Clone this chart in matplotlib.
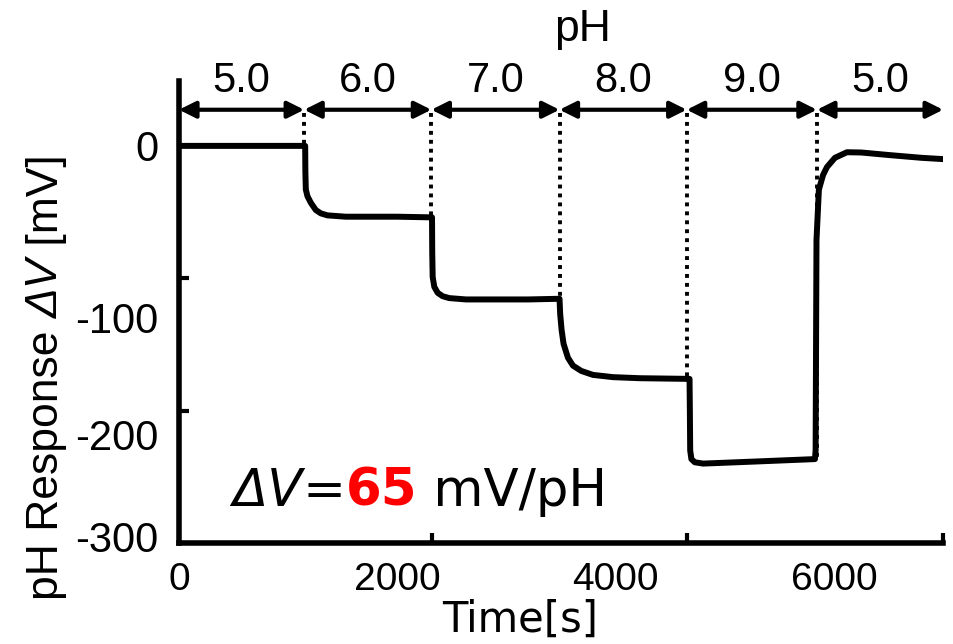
import matplotlib
matplotlib.use('Agg')
import matplotlib.pyplot as plt

matplotlib.rcParams.update({'font.family': 'Liberation Sans'})

time_s = [0, 1156, 1158, 1162, 1177, 1208, 1254, 1300, 1361, 1529, 2000, 2318,
          2320, 2324, 2339, 2370, 2416, 2477, 2630, 3200, 3486,
          3492, 3505, 3523, 3563, 3609, 3685, 3792, 3976, 4220, 4660,
          4677, 4680, 4683, 4694, 4725, 4801, 5291, 5826,
          5832, 5840, 5862, 5900, 5936, 6009, 6119, 6250, 6514, 6800, 7000]
dv_mV = [0, 0, -20, -33, -38, -43, -48.5, -51, -52.5, -53.5, -53.5, -54,
         -80, -99, -106.5, -111, -113.6, -115, -116, -116, -115.5,
         -127, -139, -149.5, -160, -166, -170, -173, -174.7, -175.5, -176,
         -176, -200, -230, -236.6, -239, -240, -238.4, -236.6,
         -230, -71, -33, -22, -16, -9, -4.8, -5, -7, -9, -10]

# pH steps
ph_bounds = [0, 1147, 2312, 3486, 4651, 5844, 7000]
ph_labels = ['5.0', '6.0', '7.0', '8.0', '9.0', '5.0']
step_level = [0, -54, -115.5, -176, -236.6]

xtick_vals = [0, 2000, 4000, 6000]
xtick_marks = [2321, 4651, 7000]
ytick_labels = ['0', '-100', '-200', '-300']
ytick_label_pos = [0, -130, -218, -295]
ytick_marks = [-100, -200]

fig = plt.figure(figsize=(9.54, 6.44), dpi=100)
ax = fig.add_axes([0.1876, 0.1568, 0.801, 0.7174])

ax.plot(time_s, dv_mV, color='k', lw=4.3, solid_joinstyle='round', zorder=3)

arrow_y = 27.3
for t, v in zip(ph_bounds[1:-1], step_level):
    ax.plot([t, t], [25, v], color='k', lw=2.8, linestyle=(0, (1, 1.3)),
            dash_capstyle='butt', zorder=2, clip_on=False)

for i in range(len(ph_labels)):
    ax.annotate('', xy=(ph_bounds[i+1], arrow_y), xytext=(ph_bounds[i], arrow_y),
                arrowprops=dict(arrowstyle='<|-|>', mutation_scale=25, lw=3, color='k',
                                shrinkA=0, shrinkB=0),
                annotation_clip=False)
    ax.text((ph_bounds[i] + ph_bounds[i+1]) / 2, 41, ph_labels[i], ha='center',
            va='baseline', fontsize=30)
ax.text(3700, 79, 'pH', ha='center', va='baseline', fontsize=32)

ax.set_xlim(0, 7000)
ax.set_ylim(-300, 49)
for s in ['top', 'right']:
    ax.spines[s].set_visible(False)
for s in ['left', 'bottom']:
    ax.spines[s].set_linewidth(4)

ax.set_xticks(xtick_vals, [str(v) for v in xtick_vals])
ax.set_xticks(xtick_marks, minor=True)
ax.set_yticks(ytick_label_pos, ytick_labels)
ax.set_yticks(ytick_marks, minor=True)
ax.tick_params(axis='x', which='major', length=0, pad=14, labelsize=28)
ax.tick_params(axis='y', which='major', length=0, pad=15, labelsize=30)
ax.tick_params(which='minor', direction='in', length=7, width=3)

ax.set_xlabel('Time[s]', fontsize=30, family='DejaVu Sans')
ax.xaxis.set_label_coords((520 - 179) / 764, -0.12)

# y label with italic delta V
yl1 = ax.text(-0.174, -0.123, 'pH Response ', transform=ax.transAxes, rotation=90,
              ha='center', va='bottom', fontsize=32)
yl2 = ax.annotate('ΔV', xy=(0.5, 1), xycoords=yl1, rotation=90, ha='center',
                  va='bottom', fontsize=32, style='italic')
ax.annotate(' [mV]', xy=(0.5, 1), xycoords=yl2, rotation=90, ha='center',
            va='bottom', fontsize=32)

# slope annotation
a1 = ax.annotate('ΔV', xy=(486, -272), ha='left', va='baseline', fontsize=37,
                 family='DejaVu Sans', style='italic')
a2 = ax.annotate('=', xy=(1, 0), xycoords=a1, ha='left', va='bottom', fontsize=37,
                 family='DejaVu Sans')
a3 = ax.annotate('65', xy=(1, 0), xycoords=a2, ha='left', va='bottom', fontsize=37,
                 family='DejaVu Sans', weight='bold', color='#ff0000')
ax.annotate(' mV/pH', xy=(1, 0), xycoords=a3, ha='left', va='bottom', fontsize=37,
            family='DejaVu Sans')

plt.savefig('out.png', dpi=100)
